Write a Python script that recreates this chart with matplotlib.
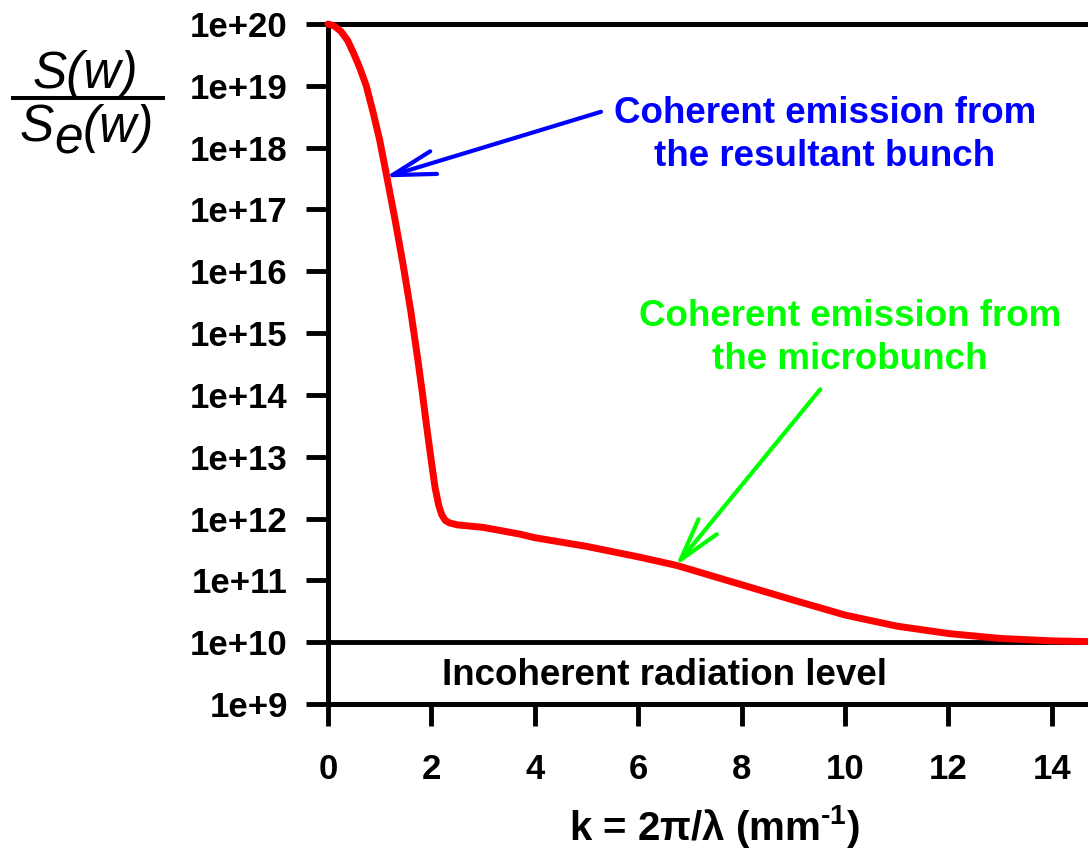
import matplotlib
matplotlib.use('Agg')
import matplotlib.pyplot as plt
from matplotlib.lines import Line2D

plt.rcParams['font.family'] = ['Liberation Sans', 'DejaVu Sans']
plt.rcParams['mathtext.fontset'] = 'custom'
plt.rcParams['mathtext.rm'] = 'Liberation Sans:bold'
plt.rcParams['mathtext.bf'] = 'Liberation Sans:bold'
plt.rcParams['mathtext.it'] = 'Liberation Sans:italic'

# spectrum S(w)/Se(w)
k_vals = [0.0, 0.12, 0.25, 0.38, 0.5, 0.62, 0.74, 0.87, 1.0, 1.14, 1.3,
          1.45, 1.6, 1.74, 1.83, 1.91, 2.0, 2.07, 2.14, 2.2, 2.27, 2.35,
          2.5, 3.0, 3.71, 4.0, 5.0, 6.0, 6.75, 8.0, 9.0, 10.0, 11.0, 12.0,
          13.0, 14.0, 14.8]
s_vals = [1.0e20, 9.3e19, 7.6e19, 5.4e19, 3.3e19, 1.9e19, 1.0e19, 3.8e18,
          1.32e18, 3.3e17, 6.6e16, 1.32e16, 2.3e15, 3.6e14, 1.0e14, 3.0e13,
          8.3e12, 3.2e12, 1.66e12, 1.15e12, 9.3e11, 8.5e11, 7.9e11, 7.2e11,
          5.6e11, 4.9e11, 3.55e11, 2.4e11, 1.74e11, 8.5e10, 4.8e10, 2.75e10,
          1.82e10, 1.38e10, 1.15e10, 1.05e10, 1.02e10]

incoherent_level = 1e10

x_ticks = [0, 2, 4, 6, 8, 10, 12, 14]
x_ticklabels = ['0', '2', '4', '6', '8', '10', '12', '14']
y_ticks = [1e9, 1e10, 1e11, 1e12, 1e13, 1e14, 1e15, 1e16, 1e17, 1e18, 1e19, 1e20]
y_ticklabels = ['1e+9', '1e+10', '1e+11', '1e+12', '1e+13', '1e+14', '1e+15',
                '1e+16', '1e+17', '1e+18', '1e+19', '1e+20']

W, H = 1088, 849
fig = plt.figure(figsize=(W / 100, H / 100), dpi=100)
ax = fig.add_axes([328 / W, 1 - 704 / H, 1 - 328 / W, (704 - 24) / H])

ax.plot(k_vals, s_vals, color='#ff0000', lw=5, solid_capstyle='round',
        solid_joinstyle='round', clip_on=False, zorder=5)
ax.axhline(incoherent_level, color='black', lw=3.5, zorder=3)

ax.set_yscale('log')
ax.set_xlim(0, 14.7)
ax.set_ylim(1e9, 1e20)
ax.set_xticks(x_ticks)
ax.set_xticklabels(x_ticklabels)
ax.set_yticks(y_ticks)
ax.set_yticklabels(y_ticklabels)
ax.minorticks_off()

for side in ['left', 'bottom', 'top']:
    ax.spines[side].set_linewidth(3.6)
ax.spines['right'].set_visible(False)
ax.tick_params(direction='out', length=16, width=3.5, labelsize=25)
ax.tick_params(axis='x', pad=19)
ax.tick_params(axis='y', pad=13)
for lab in ax.get_xticklabels() + ax.get_yticklabels():
    lab.set_fontweight('bold')

# annotations
ax.text(6.5, 2.0e9, 'Incoherent radiation level', ha='center',
        va='baseline', fontsize=26.5, fontweight='bold')

arrow_style = '->,head_length=3.1,head_width=0.85'

ax.text(9.61, 10 ** 18.84, 'Coherent emission from\nthe resultant bunch',
        ha='center', va='top', fontsize=26.5, fontweight='bold',
        color='#0000ff', linespacing=1.3)
ax.annotate('', xy=(1.1, 3.3e17), xytext=(5.28, 3.8e18),
            arrowprops=dict(arrowstyle=arrow_style, mutation_scale=10,
                            lw=3, color='#0000ff', shrinkA=0, shrinkB=0))

ax.text(10.1, 10 ** 15.55, 'Coherent emission from\nthe microbunch',
        ha='center', va='top', fontsize=26.5, fontweight='bold',
        color='#00ff00', linespacing=1.3)
ax.annotate('', xy=(6.72, 1.7e11), xytext=(9.52, 1.23e14),
            arrowprops=dict(arrowstyle=arrow_style, mutation_scale=10,
                            lw=3, color='#00ff00', shrinkA=0, shrinkB=0))

# x label
fig.text(715 / W, 1 - 840 / H, 'k = 2π/λ (mm$^{\\text{-1}}$)',
         ha='center', va='baseline', fontsize=29, fontweight='bold')

# y label as a fraction S(w) / Se(w)
yl = dict(fontsize=37, style='italic', fontweight='normal')
fig.text(85 / W, 1 - 88 / H, 'S(w)', ha='center', va='baseline', **yl)
fig.add_artist(Line2D([13 / W, 163 / W], [1 - 98 / H, 1 - 98 / H],
                      transform=fig.transFigure, color='black', lw=2.9))
t_s = fig.text(20 / W, 1 - 142 / H, 'S', ha='left', va='baseline', **yl)
t_e = ax.annotate('e', xy=(1, 0), xycoords=t_s, xytext=(0, -8),
                  textcoords='offset points', ha='left', va='bottom', **yl)
ax.annotate('(w)', xy=(1, 0), xycoords=t_e, xytext=(0, 8),
            textcoords='offset points', ha='left', va='bottom', **yl)

fig.savefig('out.png', dpi=100)
